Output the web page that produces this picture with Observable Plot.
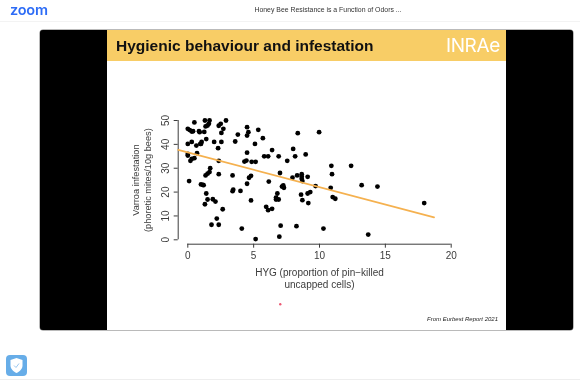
<!DOCTYPE html>
<html>
<head>
<meta charset="utf-8">
<script src="https://cdn.jsdelivr.net/npm/d3@7"></script>
<script src="https://cdn.jsdelivr.net/npm/@observablehq/plot@0.6"></script>
<style>
html,body{margin:0;padding:0;background:#fff;width:580px;height:380px;overflow:hidden;font-family:"Liberation Sans",sans-serif}
.a{position:absolute}
#page{position:absolute;left:0;top:0;width:580px;height:380px;filter:blur(.35px)}
#chart{position:absolute;left:0;top:0}
#chart svg{background:transparent;display:block}
</style>
</head>
<body>
<div id="page">
<div class="a" style="left:0;top:21px;width:580px;height:1px;background:#f3f3f3"></div>
<div class="a" style="left:10px;top:1px;font:600 14.5px/18px Inter,'Noto Sans',sans-serif;color:#2d6cf6;letter-spacing:-.2px">zoom</div>
<div class="a" style="left:128px;width:400px;text-align:center;top:5px;font:400 6.9px/10px 'Liberation Sans',sans-serif;color:#333">Honey Bee Resistance is a Function of Odors ...</div>
<div class="a" style="left:40px;top:30px;width:532.5px;height:300px;background:#000;border-radius:3px;box-shadow:0 0 0 .5px #777"></div>
<div class="a" style="left:106.7px;top:30px;width:399.3px;height:300px;background:#fff"></div>
<div class="a" style="left:106.7px;top:30px;width:399.3px;height:30.7px;background:#f8cd66"></div>
<div class="a" style="left:116px;top:36px;font:700 15.5px/20px 'Liberation Sans',sans-serif;color:#111">Hygienic behaviour and infestation</div>
<div class="a" style="left:446px;top:35px;font:400 19px/22px Inter,'Liberation Sans',sans-serif;color:#fff;letter-spacing:-.4px">INRAe</div>
<div class="a" style="left:427px;top:314px;font:italic 400 6px/10px 'Liberation Sans',sans-serif;color:#222">From Eurbest Report 2021</div>
<div class="a" style="left:5.5px;top:355px;width:21px;height:21px;background:#67ade8;border-radius:4px"></div>
<svg class="a" style="left:5.5px;top:355px" width="21" height="21" viewBox="0 0 21 21"><path d="M10.5 3 L16.5 5 V10.5 C16.5 14 13.5 16.5 10.5 18 C7.5 16.5 4.5 14 4.5 10.5 V5 Z" fill="#fff"/><path d="M8 10.5 L10 12.5 L13 8.5" fill="none" stroke="#9cc8ef" stroke-width="1"/></svg>
<div class="a" style="left:0;top:379px;width:580px;height:1px;background:#eee"></div>
<div id="chart"></div>
</div>
<script>
const hyg = [0,.15,.3,.4,.5,.85,.9,1.25,1.35,1.3,1.65,1.6,1.5,1.4,0,.3,.65,.95,1.05,1.0,2.0,2.35,2.5,2.7,2.9,2.55,2.55,2.3,0,0,.7,.5,.3,.2,2.35,.1,1.7,1.65,1.5,1.35,2.35,1,1.15,1.2,1.4,1.5,1.3,1.9,2.1,2.65,2.2,1.8,2.35,3.6,3.8,3.4,3.45,3.4,4.0,4.1,5.15,4.45,4.3,4.5,4.85,5.15,4.5,4.6,4.5,5.35,5.1,5.7,4.65,4.8,4.5,4.8,5.8,6.1,6.4,6.9,6.15,7.0,5.95,6.1,6.4,6.8,6.7,6.7,6.9,7.15,7.25,7.3,7.05,6.95,7.55,8,8.15,8.35,7.95,8.3,8.25,9.97,8.95,10.9,12.4,10.95,8.65,8.65,8.65,8.7,9.1,9.7,10.85,13.2,14.4,9.3,9.1,8.6,8.7,9.15,11,11.2,17.95,10.3,13.7];
const varroa = [46.5,46,45.4,45.5,49.2,45.5,45.1,45.2,47.5,50,50,48.6,47.9,42.2,40.2,41,39.5,40.2,41,40.2,41,47.8,48.6,46.5,50,44.8,41,38.4,36,35.3,36.3,34.2,33.9,33.1,33.1,24.6,30,28.4,27.7,27,27.5,23.2,23,22.9,19.4,16.9,14.9,17,16,12.8,8.9,6.3,6.3,41.2,44.1,27,21,20.4,20.5,4.7,.3,33.2,32.8,36.5,32.7,32.7,47.2,45.1,43.7,46.1,40.2,42.6,26,26.8,23.5,16.5,35,35,37.6,35,24.4,28,13.8,12.4,13,19.4,17.7,16.9,16.9,22.3,22.8,21.8,5.9,1.3,33.1,38.1,35,44.7,26,27,5.7,45.1,35.8,31,31,27.5,27.5,26.5,25.6,24.6,26.4,22.5,21.8,22.9,22.3,20,19.4,18.9,16.6,15.4,17.9,17.2,15.4,4.7,2.2];
const fitX = [-0.73, 18.7];
const fitY = [37.7, 9.4];
const xTicks = [0,5,10,15,20];
const yTicks = [0,10,20,30,40,50];
const xLabel = "HYG (proportion of pin\u2212killed\nuncapped cells)";
const yLabel = "Varroa infestation\n(phoretic mites/10g bees)";
const cAxis = "#3c3c3c";
const points = hyg.map((x,i)=>({x,y:varroa[i]}));
const fit = fitX.map((x,i)=>({x,y:fitY[i]}));
const plot = Plot.plot({
  width:580,height:380,
  marginLeft:187.3,marginRight:129.3,marginTop:120,marginBottom:140.7,
  style:{background:"transparent",fontFamily:"'Liberation Sans',sans-serif",fontSize:"10px",color:cAxis},
  x:{domain:[0,20]},
  y:{domain:[0,50]},
  marks:[
    Plot.ruleY([0],{x1:0,x2:20,dy:4.4,stroke:cAxis,strokeWidth:1}),
    Plot.ruleX([0],{y1:0,y2:50,dx:-9.6,stroke:cAxis,strokeWidth:1}),
    Plot.axisX({ticks:xTicks,tickSize:4,dy:4.4,tickPadding:4,label:null,stroke:cAxis,fill:cAxis,fontSize:10}),
    Plot.axisY({ticks:yTicks,tickSize:4,dx:-9.6,tickPadding:5.5,tickRotate:-90,label:null,stroke:cAxis,fill:cAxis,fontSize:10}),
    Plot.text([xLabel],{frameAnchor:"bottom",lineAnchor:"top",dy:27,lineHeight:1.26,fontSize:10,fill:cAxis}),
    Plot.text([yLabel],{frameAnchor:"left",textAnchor:"middle",rotate:-90,dx:-46.5,lineHeight:1.27,fontSize:9.2,fill:cAxis}),
    Plot.dot(points,{x:"x",y:"y",r:2.4,fill:"#000"}),
    Plot.line(fit,{x:"x",y:"y",stroke:"#f5b14f",strokeWidth:1.7}),
    Plot.dot([{x:7.02,y:-27}],{x:"x",y:"y",r:1.2,fill:"#ec5a74"})
  ]
});
document.getElementById("chart").appendChild(plot);
</script>
</body>
</html>
